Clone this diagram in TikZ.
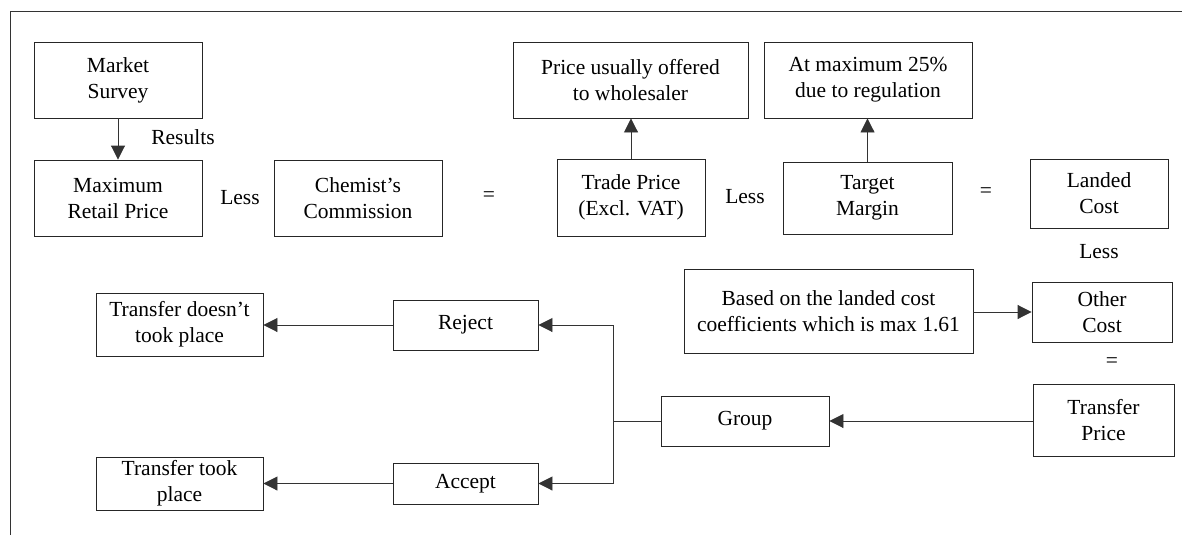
\documentclass[tikz,border=0pt]{standalone}
\usepackage{fontspec}
\setmainfont{Liberation Serif}
\usetikzlibrary{arrows.meta}
\begin{document}
\begin{tikzpicture}[x=1pt,y=-1pt,
  every node/.style={font=\fontsize{21.5}{26}\selectfont},
  box/.style={draw=black!85,line width=0.9pt,rectangle,inner sep=0pt,align=center},
  link/.style={draw=black!80,line width=0.9pt},
  arr/.style={link,-{Triangle[length=14pt,width=14pt]}},
  lbl/.style={inner sep=0pt}]
\useasboundingbox (0,0) rectangle (1182,535);
% frame edges
\draw[black!80,line width=0.9pt] (10,535) -- (10,11) -- (1182,11);

% top row
\node[box,minimum width=168pt,minimum height=76pt] (ms)  at (118,80)    {Market\\Survey};
\node[box,minimum width=235pt,minimum height=76pt] (puo) at (630.5,80)  {Price usually offered\\to wholesaler};
\node[box,minimum width=208pt,minimum height=76pt] (amx) at (868,80)    {At maximum 25\%\\due to regulation};

% equation row
\node[box,minimum width=168pt,minimum height=76pt] (mrp) at (118,198)   {Maximum\\Retail Price};
\node[box,minimum width=168pt,minimum height=76pt] (cc)  at (358,198)   {Chemist's\\Commission};
\node[box,minimum width=148pt,minimum height=77pt] (tp)  at (631,197.5) {Trade Price\\(Excl. VAT)};
\node[box,minimum width=169pt,minimum height=72pt] (tm)  at (867.5,198) {Target\\Margin};
\node[box,minimum width=138pt,minimum height=69pt] (lc)  at (1099,193.5){Landed\\Cost};

% right column
\node[box,minimum width=289pt,minimum height=84pt] (based) at (828.5,311) {Based on the landed cost\\coefficients which is max 1.61};
\node[box,minimum width=140pt,minimum height=60pt] (oc)  at (1102,312)  {Other\\Cost};
\node[box,minimum width=141pt,minimum height=72pt] (tpr) at (1103.5,420){Transfer\\Price};

% decision part
\node[box,minimum width=168pt,minimum height=50pt] (grp) at (745,421)   {Group};
\node[box,minimum width=145pt,minimum height=50pt] (rej) at (465.5,325) {Reject};
\node[box,minimum width=145pt,minimum height=41pt] (acc) at (465.5,483.5) {Accept};
\node[box,minimum width=167pt,minimum height=63pt] (tdn) at (179.5,324.5) {Transfer doesn't\\took place};
\node[box,minimum width=167pt,minimum height=53pt] (ttp) at (179.5,483.5) {Transfer took\\place};

% operators and labels
\node[lbl] (res) at (183,137) {Results};
\node[lbl] (l1) at (240,198) {Less};
\node[lbl] (e1) at (489,197) {=};
\node[lbl] (l2) at (745,197) {Less};
\node[lbl] (e2) at (986,193) {=};
\node[lbl] (l3) at (1099,252) {Less};
\node[lbl] (e3) at (1112,363) {=};

% connectors
\draw[arr] (ms.south) -- (mrp.north);
\draw[arr] (tp.north) -- (tp.north |- puo.south);
\draw[arr] (tm.north) -- (tm.north |- amx.south);
\draw[arr] (based.east |- oc.west) -- (oc.west);
\draw[arr] (tpr.west |- grp.east) -- (grp.east);
\coordinate (j) at (613,421);
\draw[link] (grp.west) -- (j);
\draw[arr] (j) |- (rej.east);
\draw[arr] (j) |- (acc.east);
\draw[arr] (rej.west) -- (tdn.east |- rej.west);
\draw[arr] (acc.west) -- (ttp.east |- acc.west);
\end{tikzpicture}
\end{document}
